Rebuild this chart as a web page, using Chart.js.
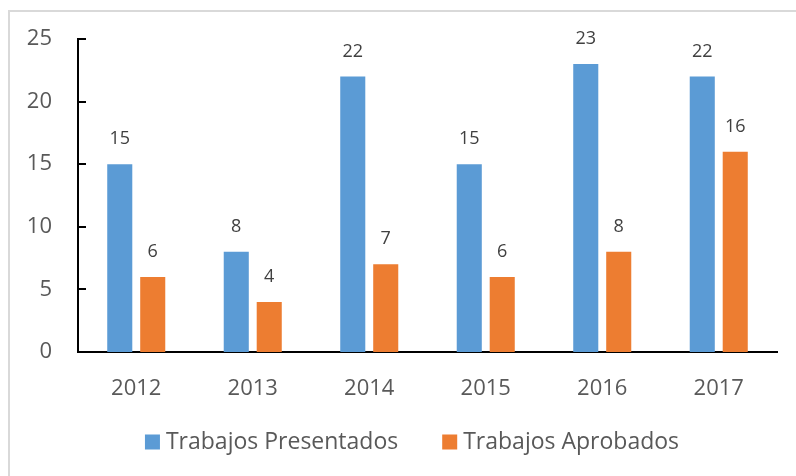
<!DOCTYPE html>
<html>
<head>
<meta charset="utf-8">
<script src="https://cdn.jsdelivr.net/npm/chart.js@4.4.0/dist/chart.umd.min.js"></script>
<style>
body{margin:0;background:#fff;}
#wrap{position:relative;width:796px;height:476px;}
#frame{position:absolute;left:8px;top:10px;right:0;bottom:0;border-left:2px solid #d9d9d9;border-top:2px solid #d9d9d9;pointer-events:none;}
</style>
</head>
<body>
<div id="wrap">
<canvas id="chart" width="796" height="476"></canvas>
<div id="frame"></div>
</div>
<script>
var years = ['2012','2013','2014','2015','2016','2017'];
var presentados = [15, 8, 22, 15, 23, 22];
var aprobados = [6, 4, 7, 6, 8, 16];
var yTicks = [0, 5, 10, 15, 20, 25];

var FONT = '"Open Sans", sans-serif';

// valores encima de las barras, marcas del eje y hacia dentro y leyenda
var extrasPlugin = {
    id: 'extras',
    afterDatasetsDraw: function(chart) {
        var ctx = chart.ctx;
        ctx.save();
        ctx.font = '18px ' + FONT;
        ctx.fillStyle = '#404040';
        ctx.textAlign = 'center';
        ctx.textBaseline = 'middle';
        chart.data.datasets.forEach(function(ds, i) {
            var meta = chart.getDatasetMeta(i);
            meta.data.forEach(function(bar, j) {
                ctx.fillText(ds.data[j], bar.x, bar.y - 25);
            });
        });
        var y = chart.scales.y;
        ctx.strokeStyle = '#000';
        ctx.lineWidth = 2;
        yTicks.forEach(function(v) {
            var py = Math.round(y.getPixelForValue(v));
            ctx.beginPath();
            ctx.moveTo(y.right, py);
            ctx.lineTo(y.right + 8, py);
            ctx.stroke();
        });

        // leyenda
        ctx.font = '23px ' + FONT;
        ctx.textAlign = 'left';
        var box = 15, gap = 6, itemGap = 44;
        var ds = chart.data.datasets;
        var widths = ds.map(function(d) { return ctx.measureText(d.label).width; });
        var total = 0;
        widths.forEach(function(w, i) { total += box + gap + w + (i > 0 ? itemGap : 0); });
        var x = 412 - total / 2;
        var cy = 442;
        ds.forEach(function(d, i) {
            ctx.fillStyle = d.backgroundColor;
            ctx.fillRect(x, cy - box / 2, box, box);
            ctx.fillStyle = '#595959';
            ctx.fillText(d.label, x + box + gap, cy);
            x += box + gap + widths[i] + itemGap;
        });
        ctx.restore();
    }
};

var ctx = document.getElementById('chart').getContext('2d');
new Chart(ctx, {
    type: 'bar',
    data: {
        labels: years,
        datasets: [{
            label: 'Trabajos Presentados',
            backgroundColor: '#5B9BD5',
            data: presentados
        }, {
            label: 'Trabajos Aprobados',
            backgroundColor: '#ED7D31',
            data: aprobados
        }]
    },
    options: {
        responsive: false,
        animation: false,
        categoryPercentage: 0.566,
        barPercentage: 0.76,
        layout: {padding: {top: 39, right: 19, bottom: 0, left: 0}},
        plugins: {
            tooltip: {enabled: false},
            legend: {display: false}
        },
        scales: {
            y: {
                min: 0,
                max: 25,
                afterFit: function(s) { s.width = 78; },
                afterBuildTicks: function(s) { s.ticks = yTicks.map(function(v) { return {value: v}; }); },
                grid: {display: false},
                border: {display: true, color: '#000', width: 2},
                ticks: {
                    color: '#595959',
                    padding: 18,
                    font: {family: FONT, size: 22}
                }
            },
            x: {
                afterFit: function(s) { s.height = 124; },
                grid: {display: false},
                border: {display: true, color: '#000', width: 2},
                ticks: {
                    color: '#595959',
                    padding: 16,
                    font: {family: FONT, size: 22}
                }
            }
        }
    },
    plugins: [extrasPlugin]
});
</script>
</body>
</html>
